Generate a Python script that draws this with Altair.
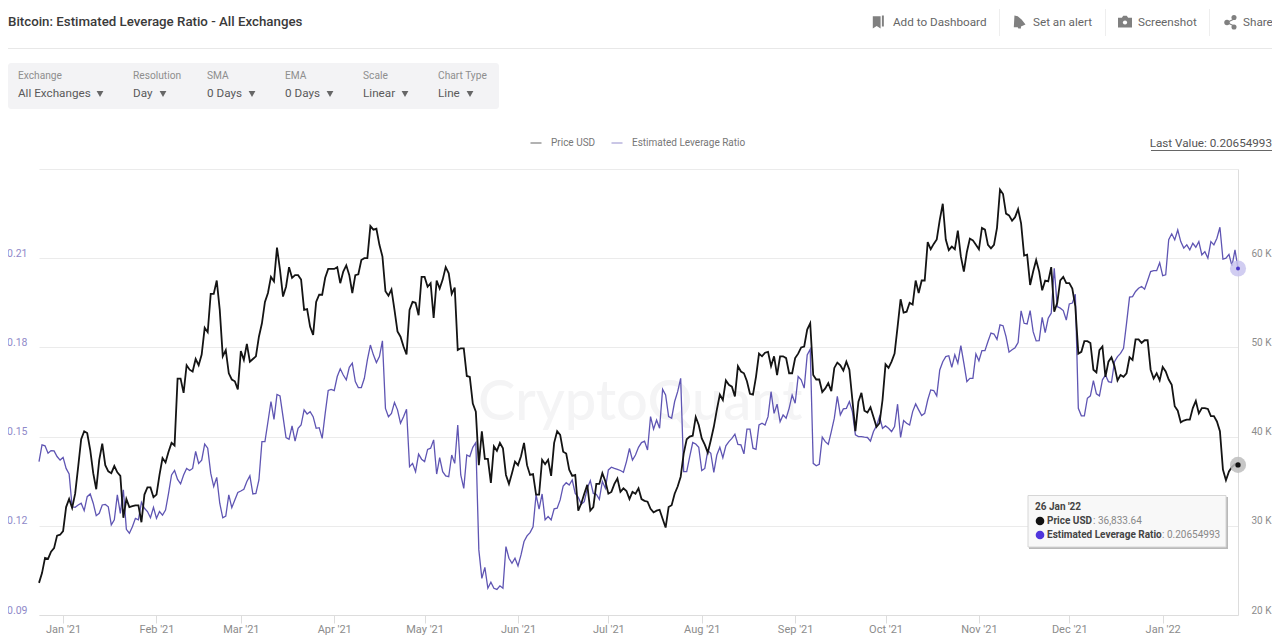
import altair as alt
import pandas as pd

START_DATE = "2020-12-24"

price_k = [
    23.6,24.7,26.4,26.3,27.1,27.5,28.9,29.0,29.4,32.1,
    33.0,32.0,33.6,36.6,39.7,40.6,40.4,38.5,35.9,34.1,
    37.4,39.2,36.8,36.1,35.9,36.7,36.0,35.6,30.9,33.0,
    32.1,32.2,32.3,32.3,30.4,33.5,34.3,34.3,33.2,33.5,
    35.7,37.6,37.1,38.3,39.3,39.0,46.5,46.5,44.9,48.0,
    47.5,47.3,48.7,48.0,49.2,52.2,51.7,56.0,56.0,57.5,
    54.2,49.0,49.7,47.1,46.4,46.2,45.3,49.6,48.6,50.4,
    48.4,48.7,49.0,51.2,52.7,55.1,56.1,57.9,57.4,61.2,
    58.7,55.7,56.8,59.0,57.8,58.1,58.1,57.6,54.2,54.3,
    52.3,51.4,55.1,55.9,55.9,57.8,58.8,58.8,58.8,59.0,
    57.2,58.5,59.2,58.1,56.1,58.1,58.2,59.8,60.0,60.0,
    63.6,63.2,63.3,61.5,60.2,56.3,55.8,56.5,54.2,51.8,
    51.2,50.1,49.2,54.2,55.1,55.0,53.6,57.9,57.9,56.8,
    57.2,53.3,57.5,56.6,57.6,59.0,58.3,56.0,56.7,49.7,
    49.9,49.9,46.8,46.7,43.7,42.8,36.8,40.6,37.5,37.5,
    34.8,38.9,38.4,39.3,38.7,35.7,34.7,35.9,37.2,36.8,
    37.8,39.3,36.8,35.7,35.8,33.5,33.5,37.4,36.9,37.4,
    35.6,39.3,40.6,40.2,38.3,38.1,36.3,35.6,35.7,31.7,
    32.5,33.6,34.6,31.7,32.1,34.7,34.7,35.9,35.0,33.6,
    33.8,34.7,35.3,33.8,34.2,33.9,33.0,33.8,33.6,34.2,
    33.0,32.8,32.7,31.9,31.5,31.7,31.8,30.8,29.8,32.1,
    32.3,33.6,34.4,35.5,38.1,39.7,40.0,40.1,42.2,41.3,
    39.8,39.1,38.2,39.6,41.1,43.0,44.7,44.1,46.3,45.8,
    45.6,44.5,47.9,47.3,47.1,46.2,44.8,44.7,46.7,49.3,
    49.0,49.4,49.5,47.9,49.0,46.9,49.0,49.0,48.8,47.1,
    47.1,48.8,49.3,50.0,50.1,52.0,52.7,46.9,46.4,46.4,
    45.0,45.4,46.0,45.1,47.7,48.3,48.0,47.4,48.4,47.5,
    44.1,40.6,43.9,44.9,42.9,42.7,43.3,42.2,41.1,41.5,
    44.1,48.1,47.7,48.4,49.3,52.3,55.4,53.9,54.0,55.0,
    54.8,57.5,56.1,57.5,57.5,61.8,61.0,61.6,62.1,64.3,
    66.1,62.1,60.9,61.3,61.0,63.1,60.2,58.5,60.7,62.2,
    62.0,61.5,61.0,63.4,63.2,61.5,61.1,61.5,63.4,67.7,
    67.2,65.0,64.8,64.2,64.6,65.5,63.9,60.3,60.4,57.0,
    58.5,59.8,58.5,56.4,57.5,57.4,59.0,54.0,55.0,57.5,
    57.9,57.2,57.2,56.6,54.6,49.3,49.5,50.7,50.7,50.5,
    47.5,47.2,49.7,50.1,46.7,48.4,48.9,47.9,46.3,46.9,
    46.7,47.1,48.9,48.6,50.9,50.9,50.5,50.8,50.8,47.5,
    46.5,47.1,46.3,47.8,47.3,46.4,45.8,43.4,42.9,41.6,
    41.8,41.9,41.9,43.2,44.0,42.6,43.2,43.2,43.1,42.3,
    42.3,41.7,40.6,36.3,35.1,36.1,36.6,36.9,36.83,
]

leverage = [
    .1416,.1472,.1469,.1444,.1453,.1452,.1433,.1421,.1430,.1393,
    .1374,.1264,.1262,.1270,.1276,.1251,.1298,.1307,.1276,.1234,
    .1242,.1270,.1272,.1264,.1203,.1220,.1304,.1242,.1321,.1188,
    .1175,.1197,.1225,.1220,.1279,.1259,.1248,.1227,.1262,.1225,
    .1248,.1236,.1253,.1309,.1371,.1386,.1356,.1341,.1371,.1393,
    .1386,.1393,.1450,.1410,.1421,.1475,.1461,.1377,.1332,.1363,
    .1276,.1227,.1233,.1304,.1261,.1287,.1312,.1317,.1323,.1349,
    .1368,.1307,.1309,.1354,.1483,.1483,.1550,.1618,.1558,.1642,
    .1637,.1567,.1497,.1491,.1536,.1485,.1528,.1539,.1590,.1576,
    .1584,.1567,.1528,.1530,.1494,.1578,.1655,.1659,.1655,.1702,
    .1728,.1707,.1691,.1733,.1747,.1685,.1665,.1665,.1696,.1758,
    .1808,.1775,.1749,.1769,.1822,.1595,.1567,.1578,.1615,.1590,
    .1545,.1567,.1592,.1399,.1410,.1382,.1441,.1424,.1416,.1457,
    .1461,.1489,.1374,.1429,.1382,.1368,.1365,.1438,.1410,.1539,
    .1371,.1326,.1438,.1433,.1464,.1480,.1119,.1023,.1060,.0990,
    .1010,.0990,.0986,.0998,.0990,.1130,.1091,.1074,.1091,.1065,
    .1102,.1147,.1166,.1177,.1197,.1304,.1256,.1307,.1220,.1231,
    .1220,.1257,.1259,.1287,.1334,.1345,.1337,.1354,.1309,.1296,
    .1273,.1281,.1326,.1352,.1309,.1306,.1289,.1349,.1326,.1388,
    .1397,.1393,.1390,.1386,.1380,.1416,.1460,.1421,.1438,.1464,
    .1480,.1485,.1455,.1567,.1525,.1556,.1528,.1659,.1640,.1567,
    .1562,.1618,.1651,.1696,.1382,.1382,.1433,.1480,.1475,.1464,
    .1386,.1393,.1453,.1444,.1380,.1438,.1464,.1429,.1469,.1483,
    .1494,.1508,.1474,.1472,.1442,.1525,.1525,.1461,.1457,.1539,
    .1545,.1539,.1567,.1651,.1578,.1609,.1550,.1573,.1562,.1595,
    .1640,.1612,.1702,.1691,.1663,.1775,.1794,.1410,.1402,.1407,
    .1498,.1483,.1474,.1517,.1562,.1635,.1573,.1593,.1595,.1618,
    .1584,.1506,.1500,.1500,.1498,.1497,.1485,.1517,.1536,.1567,
    .1528,.1536,.1528,.1517,.1534,.1609,.1497,.1554,.1545,.1539,
    .1584,.1610,.1590,.1571,.1578,.1623,.1657,.1655,.1637,.1724,
    .1752,.1769,.1772,.1733,.1775,.1747,.1806,.1747,.1685,.1696,
    .1696,.1778,.1755,.1789,.1789,.1820,.1848,.1845,.1827,.1876,
    .1873,.1836,.1784,.1792,.1799,.1816,.1923,.1881,.1879,.1924,
    .1853,.1822,.1823,.1901,.1850,.1898,.1915,.2066,.1937,.1932,
    .1924,.1892,.1946,.1949,.1979,.1595,.1570,.1570,.1629,.1637,
    .1688,.1644,.1637,.1691,.1707,.1685,.1682,.1752,.1769,.1780,
    .1797,.1881,.1969,.1971,.1988,.1999,.2005,.1996,.2025,.2055,
    .2058,.2058,.2085,.2041,.2044,.2162,.2182,.2162,.2195,.2156,
    .2134,.2145,.2128,.2150,.2137,.2156,.2111,.2122,.2100,.2156,
    .2145,.2167,.2204,.2097,.2100,.2113,.2074,.2128,.20655,
]

month_ticks = [(2021, m) for m in range(1, 13)] + [(2022, 1)]
left_ticks = [0.09, 0.12, 0.15, 0.18, 0.21, 0.24]
right_ticks = [20, 30, 40, 50, 60, 70]

PLOT_L, PLOT_T = 39, 169
FONT = "Roboto"
PURPLE = "#5f55b3"
BLACK = "#141414"

df = pd.DataFrame({
    "date": pd.date_range(START_DATE, periods=len(price_k), freq="D").strftime("%Y-%m-%d"),
    "price": price_k,
    "ratio": leverage,
})
last = df.tail(1)

color_scale = alt.Scale(domain=["Price USD", "Estimated Leverage Ratio"], range=[BLACK, PURPLE])
legend = alt.Legend(
    title=None, orient="none", legendX=491, legendY=-32, direction="horizontal",
    symbolType="stroke", symbolSize=121, symbolStrokeWidth=1, symbolOpacity=0.65,
    labelFont=FONT, labelFontSize=10, labelColor="#777777", labelOffset=9,
    columnPadding=13, padding=0,
)
color_enc = alt.Color("series:N", scale=color_scale, legend=legend)
x_axis = alt.Axis(
    values=[alt.DateTime(year=y, month=m, date=1) for y, m in month_ticks],
    labelExpr="timeFormat(datum.value, \"%b '%y\")",
    grid=False, title=None, tickSize=8, tickColor="#dddddd", domainColor="#dddddd",
    labelFont=FONT, labelFontSize=11, labelColor="#8c8c8c", labelPadding=0,
    labelOverlap=False, labelFlush=False,
)
x_enc = alt.X("date:T", axis=x_axis, scale=alt.Scale(domain=["2020-12-24", "2022-01-26"]))
y_ratio_scale = alt.Scale(domain=[0.09, 0.24], zero=False, nice=False)
y_price_scale = alt.Scale(domain=[20, 70], zero=False, nice=False)

ratio_line = alt.Chart(df).transform_calculate(series="'Estimated Leverage Ratio'").mark_line(
    strokeWidth=1.3, interpolate="linear"
).encode(
    x=x_enc,
    y=alt.Y("ratio:Q", scale=y_ratio_scale, axis=alt.Axis(
        orient="left", values=left_ticks, title=None, domain=False, ticks=False,
        grid=True, gridColor="#ebebeb", gridWidth=1,
        labelExpr="datum.value > 0.23 ? '' : format(datum.value, '.2f')",
        labelFont=FONT, labelFontSize=10.5, labelColor="#8f89c9", labelPadding=12,
        labelBaseline="middle", labelOffset=-5)),
    color=color_enc,
)
price_line = alt.Chart(df).transform_calculate(series="'Price USD'").mark_line(
    strokeWidth=1.8, interpolate="linear"
).encode(
    x=x_enc,
    y=alt.Y("price:Q", scale=y_price_scale, axis=alt.Axis(
        orient="right", values=right_ticks, title=None, domain=True, domainColor="#dddddd",
        ticks=False, grid=False,
        labelExpr="datum.value > 65 ? '' : datum.value + ' K'",
        labelFont=FONT, labelFontSize=10, labelColor="#8c8c8c", labelPadding=13,
        labelBaseline="middle", labelOffset=-5)),
    color=color_enc,
)
ratio_halo = alt.Chart(last).mark_point(filled=True, size=260, color="#c9c4ee", opacity=0.85).encode(
    x="date:T", y=alt.Y("ratio:Q", scale=y_ratio_scale, axis=None))
ratio_dot = alt.Chart(last).mark_point(filled=True, size=16, color="#4a35c9", opacity=1).encode(
    x="date:T", y=alt.Y("ratio:Q", scale=y_ratio_scale, axis=None))
price_halo = alt.Chart(last).mark_point(filled=True, size=260, color="#bdbdbd", opacity=0.85).encode(
    x="date:T", y=alt.Y("price:Q", scale=y_price_scale, axis=None))
price_dot = alt.Chart(last).mark_point(filled=True, size=28, color="#111111", opacity=1).encode(
    x="date:T", y=alt.Y("price:Q", scale=y_price_scale, axis=None))

BLANK = alt.Data(values=[{}])


def label(px, py, s, size=11.7, color="#666666", weight="normal", align="left", font=FONT):
    return alt.Chart(BLANK).mark_text(
        text=s, fontSize=size, color=color, fontWeight=weight, align=align,
        baseline="middle", font=font,
    ).encode(x=alt.value(px - PLOT_L), y=alt.value(py - PLOT_T))


def box(x0, y0, x1, y1, fill, radius=0, stroke=None):
    opts = {"fill": fill, "cornerRadius": radius}
    if stroke:
        opts.update(stroke=stroke, strokeWidth=1)
    return alt.Chart(BLANK).mark_rect(**opts).encode(
        x=alt.value(x0 - PLOT_L), x2=alt.value(x1 - PLOT_L),
        y=alt.value(y0 - PLOT_T), y2=alt.value(y1 - PLOT_T))


def glyph(px, py, shape, size, color="#808080"):
    return alt.Chart(BLANK).mark_point(
        shape=shape, filled=True, size=size, color=color, opacity=1
    ).encode(x=alt.value(px - PLOT_L), y=alt.value(py - PLOT_T))


watermark = label(478, 403, "CryptoQuant", size=56, color="#f4f4f5", weight=500, font="Lato")

chrome = [
    label(8, 22, "Bitcoin: Estimated Leverage Ratio - All Exchanges", size=13.3, color="#3a3a3a", weight=500),
    box(8, 48, 1272, 49, "#e8e8e8"),
    label(893, 22, "Add to Dashboard"),
    label(1033, 22, "Set an alert"),
    label(1138, 22, "Screenshot"),
    label(1243, 22, "Share"),
    box(999, 9, 1000, 36, "#eeeeee"),
    box(1105, 9, 1106, 36, "#eeeeee"),
    box(1209, 9, 1210, 36, "#eeeeee"),
    glyph(878, 22, "M-0.8 -0.9 H0.4 V1 L-0.2 0.6 L-0.8 1 Z M0.6 -1 H0.9 V0.7 H0.6 Z", 169),
    glyph(1019, 22, "M-0.7 -1 L-0.2 -0.9 L0.4 -0.4 L1 0.4 L0.3 0.7 L0.3 1 L-0.1 1 L-0.2 0.8 L-0.8 0.8 Z", 169),
    glyph(1125, 22, "M-1 -0.6 H-0.45 L-0.25 -0.9 H0.25 L0.45 -0.6 H1 V0.8 H-1 Z", 196),
    glyph(1125, 22.5, "circle", 18, "#ffffff"),
    glyph(1227, 22.5, "circle", 30),
    glyph(1234, 17.5, "circle", 26),
    glyph(1234, 27, "circle", 26),
    glyph(1230.5, 22.5, "M-1 -0.15 L0.9 -1 L1 -0.75 L-0.6 0 L1 0.75 L0.9 1 L-1 0.15 Z", 64),
    box(8, 63, 499, 109, "#f3f3f5", radius=3),
]
for x, head, value, caret in [
    (18, "Exchange", "All Exchanges", 100),
    (133, "Resolution", "Day", 163),
    (207, "SMA", "0 Days", 252),
    (285, "EMA", "0 Days", 330),
    (363, "Scale", "Linear", 405),
    (438, "Chart Type", "Line", 470),
]:
    chrome += [
        label(x, 76, head, size=10.2, color="#8e8e8e"),
        label(x, 93, value, size=11.7, color="#5a5a5a"),
        glyph(caret, 94, "triangle-down", 45, "#666666"),
    ]
chrome += [
    label(1272, 143, "Last Value: 0.20654993", size=11.7, color="#555555", align="right"),
    box(1151, 150, 1272, 151, "#666666"),
]

tooltip = [
    box(1029, 497, 1228, 549, "#b9b9b9"),
    box(1028, 495.5, 1226, 547, "#f8f8f8", stroke="#d6d6d6"),
    label(1035, 507, "26 Jan '22", size=10, color="#444444", weight="bold"),
    glyph(1040, 521, "circle", 75, "#111111"),
    label(1047, 521, "Price USD", size=10, color="#444444", weight="bold"),
    label(1093, 521, ": 36,833.64", size=10, color="#888888"),
    glyph(1040, 535, "circle", 75, "#4f35dc"),
    label(1047, 535, "Estimated Leverage Ratio", size=10, color="#444444", weight="bold"),
    label(1162, 535, ": 0.20654993", size=10, color="#888888"),
]

chart = alt.layer(
    watermark, ratio_line, price_line, ratio_halo, price_halo, ratio_dot, price_dot,
    *chrome, *tooltip,
).resolve_scale(y="independent").properties(
    width=1199, height=446,
    padding={"left": 31, "top": 161, "right": 34, "bottom": 25},
    autosize=alt.AutoSizeParams(type="none"),
    background="#ffffff",
).configure_view(stroke=None)

chart.save("out.html", embed_options={"renderer": "svg", "actions": False})
